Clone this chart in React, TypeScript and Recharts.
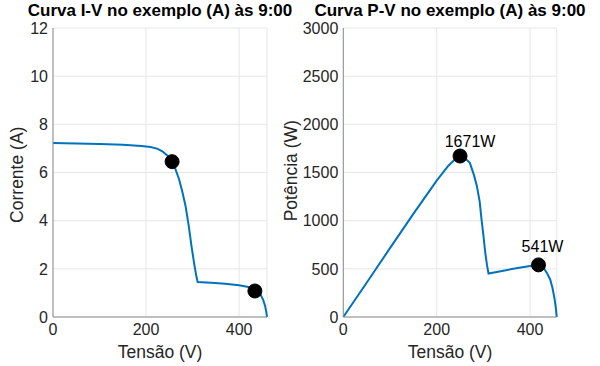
import React from "react";
import {
  LineChart,
  Line,
  XAxis,
  YAxis,
  CartesianGrid,
  ReferenceDot,
} from "recharts";

// ---- I-V curve (left) ----
const ivVoltage = [0, 50, 100, 150, 190, 210, 225, 235, 245, 254, 262, 271, 278, 285, 292, 298, 304, 308, 311, 340, 370, 400, 420, 430, 440, 447, 452, 456, 458.5, 460];
const ivCurrent = [7.22, 7.2, 7.18, 7.15, 7.1, 7.06, 6.98, 6.88, 6.72, 6.5, 6.2, 5.72, 5.2, 4.6, 3.75, 2.9, 2.15, 1.7, 1.45, 1.42, 1.38, 1.32, 1.25, 1.2, 1.05, 0.9, 0.7, 0.45, 0.2, 0];
const ivMarkerV = [256, 434];
const ivMarkerI = [6.45, 1.08];

// ---- P-V curve (right) ----
const pvVoltage = [0, 50, 100, 150, 200, 225, 240, 250, 260, 271, 280, 286, 292, 296, 300, 304, 308, 311, 340, 370, 400, 418, 428, 436, 443, 448, 452, 455, 457];
const pvPower = [0, 355, 715, 1070, 1415, 1570, 1640, 1671, 1650, 1600, 1470, 1361, 1200, 1014, 850, 667, 530, 451, 478, 505, 530, 541, 516, 458, 390, 300, 200, 100, 0];
const pvMarkerV = [250, 418];
const pvMarkerP = [1671, 541];
const pvMarkerLabels = ["1671W", "541W"];

const xTicks = [0, 200, 400];
const ivYTicks = [0, 2, 4, 6, 8, 10, 12];
const pvYTicks = [0, 500, 1000, 1500, 2000, 2500, 3000];

const ivData = ivVoltage.map((v, k) => ({ v, i: ivCurrent[k] }));
const pvData = pvVoltage.map((v, k) => ({ v, p: pvPower[k] }));

const FONT = "'Liberation Sans', Arial, Helvetica, sans-serif";
const BLUE = "#0072BD";
const AXIS = "#8c8c8c";
const GRID = "#e6e6e6";
const TICK = { fontSize: 16, fill: "#262626", fontFamily: FONT };

const DotLabel = (props: any) => {
  const { viewBox, text, dx, dy } = props;
  if (!viewBox) return null;
  const cx = viewBox.x + viewBox.width / 2;
  const cy = viewBox.y + viewBox.height / 2;
  return (
    <text x={cx + dx} y={cy + dy} textAnchor="middle" fontSize={16} fontFamily={FONT} fill="#000">
      {text}
    </text>
  );
};

const labelOffsets = [
  { dx: 10, dy: -9 },
  { dx: 4, dy: -13 },
];

const titleStyle = (cx: number): React.CSSProperties => ({
  position: "absolute",
  left: cx - 150,
  top: 2,
  width: 300,
  textAlign: "center",
  fontFamily: FONT,
  fontWeight: "bold",
  fontSize: 17,
  lineHeight: "17px",
  color: "#000",
  whiteSpace: "nowrap",
});

const xLabelStyle = (cx: number): React.CSSProperties => ({
  position: "absolute",
  left: cx - 100,
  top: 344,
  width: 200,
  textAlign: "center",
  fontFamily: FONT,
  fontSize: 17.5,
  lineHeight: "17.5px",
  color: "#262626",
  whiteSpace: "nowrap",
});

const yLabelStyle = (cx: number, cy: number): React.CSSProperties => ({
  position: "absolute",
  left: cx - 100,
  top: cy - 8.75,
  width: 200,
  height: 17.5,
  textAlign: "center",
  fontFamily: FONT,
  fontSize: 17.5,
  lineHeight: "17.5px",
  color: "#262626",
  whiteSpace: "nowrap",
  transform: "rotate(-90deg)",
  transformOrigin: "50% 50%",
});

export default function App() {
  return (
    <div
      style={{
        position: "absolute",
        left: 0,
        top: 0,
        width: 600,
        height: 366,
        background: "#fff",
        overflow: "hidden",
      }}
    >
      <div style={{ position: "absolute", left: 0, top: 0 }}>
        <LineChart width={300} height={366} data={ivData} margin={{ top: 28, right: 33, left: 0, bottom: 0 }}>
          <CartesianGrid stroke={GRID} />
          <XAxis
            dataKey="v"
            type="number"
            domain={[0, 460]}
            ticks={xTicks}
            height={49}
            tick={TICK}
            tickLine={false}
            tickSize={0}
            tickMargin={7}
            axisLine={{ stroke: AXIS }}
          />
          <YAxis
            type="number"
            domain={[0, 12]}
            ticks={ivYTicks}
            width={53}
            tick={TICK}
            tickLine={false}
            tickSize={0}
            tickMargin={5}
            axisLine={{ stroke: AXIS }}
          />
          <Line
            type="linear"
            dataKey="i"
            stroke={BLUE}
            strokeWidth={2}
            dot={false}
            isAnimationActive={false}
          />
          {ivMarkerV.map((v, k) => (
            <ReferenceDot key={k} x={v} y={ivMarkerI[k]} r={7} fill="#000" stroke="#000" />
          ))}
        </LineChart>
      </div>
      <div style={{ position: "absolute", left: 300, top: 0 }}>
        <LineChart width={300} height={366} data={pvData} margin={{ top: 28, right: 43.3, left: 0, bottom: 0 }}>
          <CartesianGrid stroke={GRID} />
          <XAxis
            dataKey="v"
            type="number"
            domain={[0, 457]}
            ticks={xTicks}
            height={49}
            tick={TICK}
            tickLine={false}
            tickSize={0}
            tickMargin={7}
            axisLine={{ stroke: AXIS }}
          />
          <YAxis
            type="number"
            domain={[0, 3000]}
            ticks={pvYTicks}
            width={43.3}
            tick={TICK}
            tickLine={false}
            tickSize={0}
            tickMargin={5}
            axisLine={{ stroke: AXIS }}
          />
          <Line
            type="linear"
            dataKey="p"
            stroke={BLUE}
            strokeWidth={2}
            dot={false}
            isAnimationActive={false}
          />
          {pvMarkerV.map((v, k) => (
            <ReferenceDot
              key={k}
              x={v}
              y={pvMarkerP[k]}
              r={7}
              fill="#000"
              stroke="#000"
              label={<DotLabel text={pvMarkerLabels[k]} dx={labelOffsets[k].dx} dy={labelOffsets[k].dy} />}
            />
          ))}
        </LineChart>
      </div>
      <div style={titleStyle(160)}>Curva I-V no exemplo (A) às 9:00</div>
      <div style={titleStyle(450)}>Curva P-V no exemplo (A) às 9:00</div>
      <div style={xLabelStyle(160)}>Tensão (V)</div>
      <div style={xLabelStyle(450)}>Tensão (V)</div>
      <div style={yLabelStyle(18, 175)}>Corrente (A)</div>
      <div style={yLabelStyle(291.5, 171)}>Potência (W)</div>
    </div>
  );
}
